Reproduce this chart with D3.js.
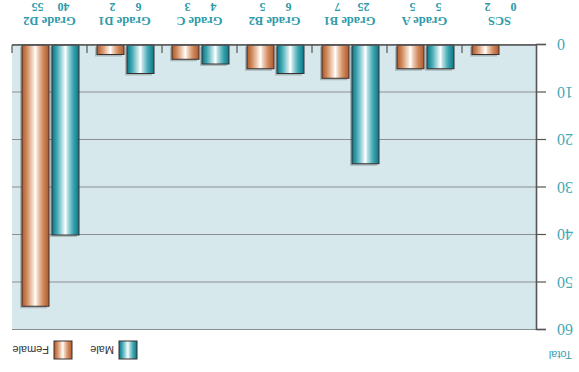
<!DOCTYPE html>
<html>
<head>
<meta charset="utf-8">
<script src="https://cdn.jsdelivr.net/npm/d3@7"></script>
<style>
  html, body { margin: 0; padding: 0; background: #ffffff; }
  svg { display: block; }
</style>
</head>
<body>
<svg id="chart" width="579" height="372"></svg>
<script>
// Student grades by gender
const categories = ["SCS", "Grade A", "Grade B1", "Grade B2", "Grade C", "Grade D1", "Grade D2"];
const series = ["Male", "Female"];
const maleValues = [0, 5, 25, 6, 4, 6, 40];
const femaleValues = [2, 5, 7, 5, 3, 2, 55];
const yTicks = [0, 10, 20, 30, 40, 50, 60];
const yTitle = "Total";

const W = 579, H = 372;
const plot = { left: 42, right: 567, top: 42, bottom: 327 };

const svg = d3.select("#chart");
const defs = svg.append("defs");

// Cylindrical shading for the two series
function cylinder(id, edge, mid, light) {
  const g = defs.append("linearGradient").attr("id", id)
    .attr("x1", "0%").attr("x2", "100%").attr("y1", "0%").attr("y2", "0%");
  [[0, edge], [0.22, mid], [0.42, light], [0.5, "#ffffff"], [0.62, light], [0.82, mid], [1, edge]]
    .forEach(([o, c]) => g.append("stop").attr("offset", o).attr("stop-color", c));
}
cylinder("gMale", "#0a7785", "#3fa6b2", "#b4dfe3");
cylinder("gFemale", "#b0582a", "#d08a5e", "#f2d2bc");
const fills = { Male: "url(#gMale)", Female: "url(#gFemale)" };

// Whole drawing is turned half a revolution about the centre
const root = svg.append("g").attr("transform", `rotate(180, ${W / 2}, ${H / 2})`);

const x = d3.scaleBand().domain(categories).range([plot.left, plot.right]).padding(0);
const xs = d3.scaleBand().domain(series).range([8, 65]).paddingInner(0.1);
const y = d3.scaleLinear().domain([0, 60]).range([plot.bottom, plot.top]);

// Plot background
root.append("rect")
  .attr("x", plot.left).attr("y", plot.top)
  .attr("width", plot.right - plot.left).attr("height", plot.bottom - plot.top)
  .attr("fill", "#d6e8ec");

// Horizontal grid lines
root.append("g")
  .attr("transform", `translate(${plot.left},0)`)
  .call(d3.axisLeft(y).tickValues(yTicks).tickSize(-(plot.right - plot.left)).tickFormat(""))
  .call(g => g.select(".domain").remove())
  .call(g => g.selectAll(".tick line").attr("stroke", "#8a8f91").attr("stroke-width", 1));

// Bars
const rows = categories.map((c, i) => ({ c, Male: maleValues[i], Female: femaleValues[i] }));
const groups = root.append("g").selectAll("g").data(rows).join("g")
  .attr("transform", d => `translate(${x(d.c)},0)`);

// soft drop shadow
groups.selectAll("rect.shadow")
  .data(d => series.map(s => ({ s, v: d[s] })).filter(e => e.v > 0))
  .join("rect").attr("class", "shadow")
  .attr("x", e => xs(e.s) + 2).attr("y", e => y(e.v) - 2)
  .attr("width", xs.bandwidth()).attr("height", e => y(0) - y(e.v))
  .attr("fill", "#5a6366").attr("opacity", 0.35);

groups.selectAll("rect.bar")
  .data(d => series.map(s => ({ s, v: d[s] })).filter(e => e.v > 0))
  .join("rect").attr("class", "bar")
  .attr("x", e => xs(e.s)).attr("y", e => y(e.v))
  .attr("width", xs.bandwidth()).attr("height", e => y(0) - y(e.v))
  .attr("fill", e => fills[e.s])
  .attr("stroke", "#3a3030").attr("stroke-width", 1);

// Left value axis
root.append("g")
  .attr("transform", `translate(${plot.left},0)`)
  .call(d3.axisLeft(y).tickValues(yTicks).tickSize(9).tickPadding(11))
  .call(g => g.select(".domain").attr("stroke", "#555").attr("stroke-width", 1.6))
  .call(g => g.selectAll(".tick line").attr("stroke", "#555").attr("stroke-width", 1.2))
  .call(g => g.selectAll(".tick text")
    .attr("fill", "#45a8b6")
    .style("font-family", "'Liberation Serif', 'DejaVu Serif', serif")
    .style("font-size", "16px"));

// Category axis: baseline, separators and labels
root.append("line")
  .attr("x1", plot.left).attr("x2", plot.right)
  .attr("y1", plot.bottom).attr("y2", plot.bottom)
  .attr("stroke", "#555").attr("stroke-width", 1.6);

const seps = categories.slice(1).map(c => x(c)).concat([plot.right]);
root.append("g").selectAll("line").data(seps).join("line")
  .attr("x1", d => d).attr("x2", d => d)
  .attr("y1", plot.bottom).attr("y2", plot.bottom - 8)
  .attr("stroke", "#555").attr("stroke-width", 1.2);

const catFont = "'Liberation Serif', 'DejaVu Serif', serif";
const labels = root.append("g").selectAll("g").data(rows).join("g")
  .attr("transform", d => `translate(${x(d.c)},0)`);
labels.append("text")
  .attr("x", x.bandwidth() / 2).attr("y", 355)
  .attr("text-anchor", "middle")
  .attr("fill", "#2e9aa9")
  .style("font-family", catFont).style("font-weight", "bold").style("font-size", "12.5px")
  .text(d => d.c);
labels.selectAll("text.num")
  .data(d => series.map(s => ({ s, v: d[s] })))
  .join("text").attr("class", "num")
  .attr("x", e => xs(e.s) + xs.bandwidth() / 2 + (e.s === "Male" ? 2 : -2))
  .attr("y", 369.5)
  .attr("text-anchor", "middle")
  .attr("fill", "#2e9aa9")
  .style("font-family", catFont).style("font-weight", "bold").style("font-size", "12px")
  .text(e => e.v);

// Axis title
root.append("text")
  .attr("x", 7).attr("y", 21)
  .attr("fill", "#3aa0b0")
  .style("font-family", "'Liberation Sans', Arial, sans-serif").style("font-size", "11px")
  .text(yTitle);

// Legend
const legend = root.append("g").selectAll("g").data(series).join("g")
  .attr("transform", (d, i) => `translate(${i === 0 ? 442 : 507},13)`);
legend.append("rect")
  .attr("width", 18).attr("height", 18)
  .attr("fill", d => fills[d])
  .attr("stroke", "#3a3030").attr("stroke-width", 1);
legend.append("text")
  .attr("x", 23).attr("y", 13)
  .attr("fill", "#333")
  .style("font-family", "'Liberation Sans', Arial, sans-serif").style("font-size", "11px")
  .text(d => d);
</script>
</body>
</html>
